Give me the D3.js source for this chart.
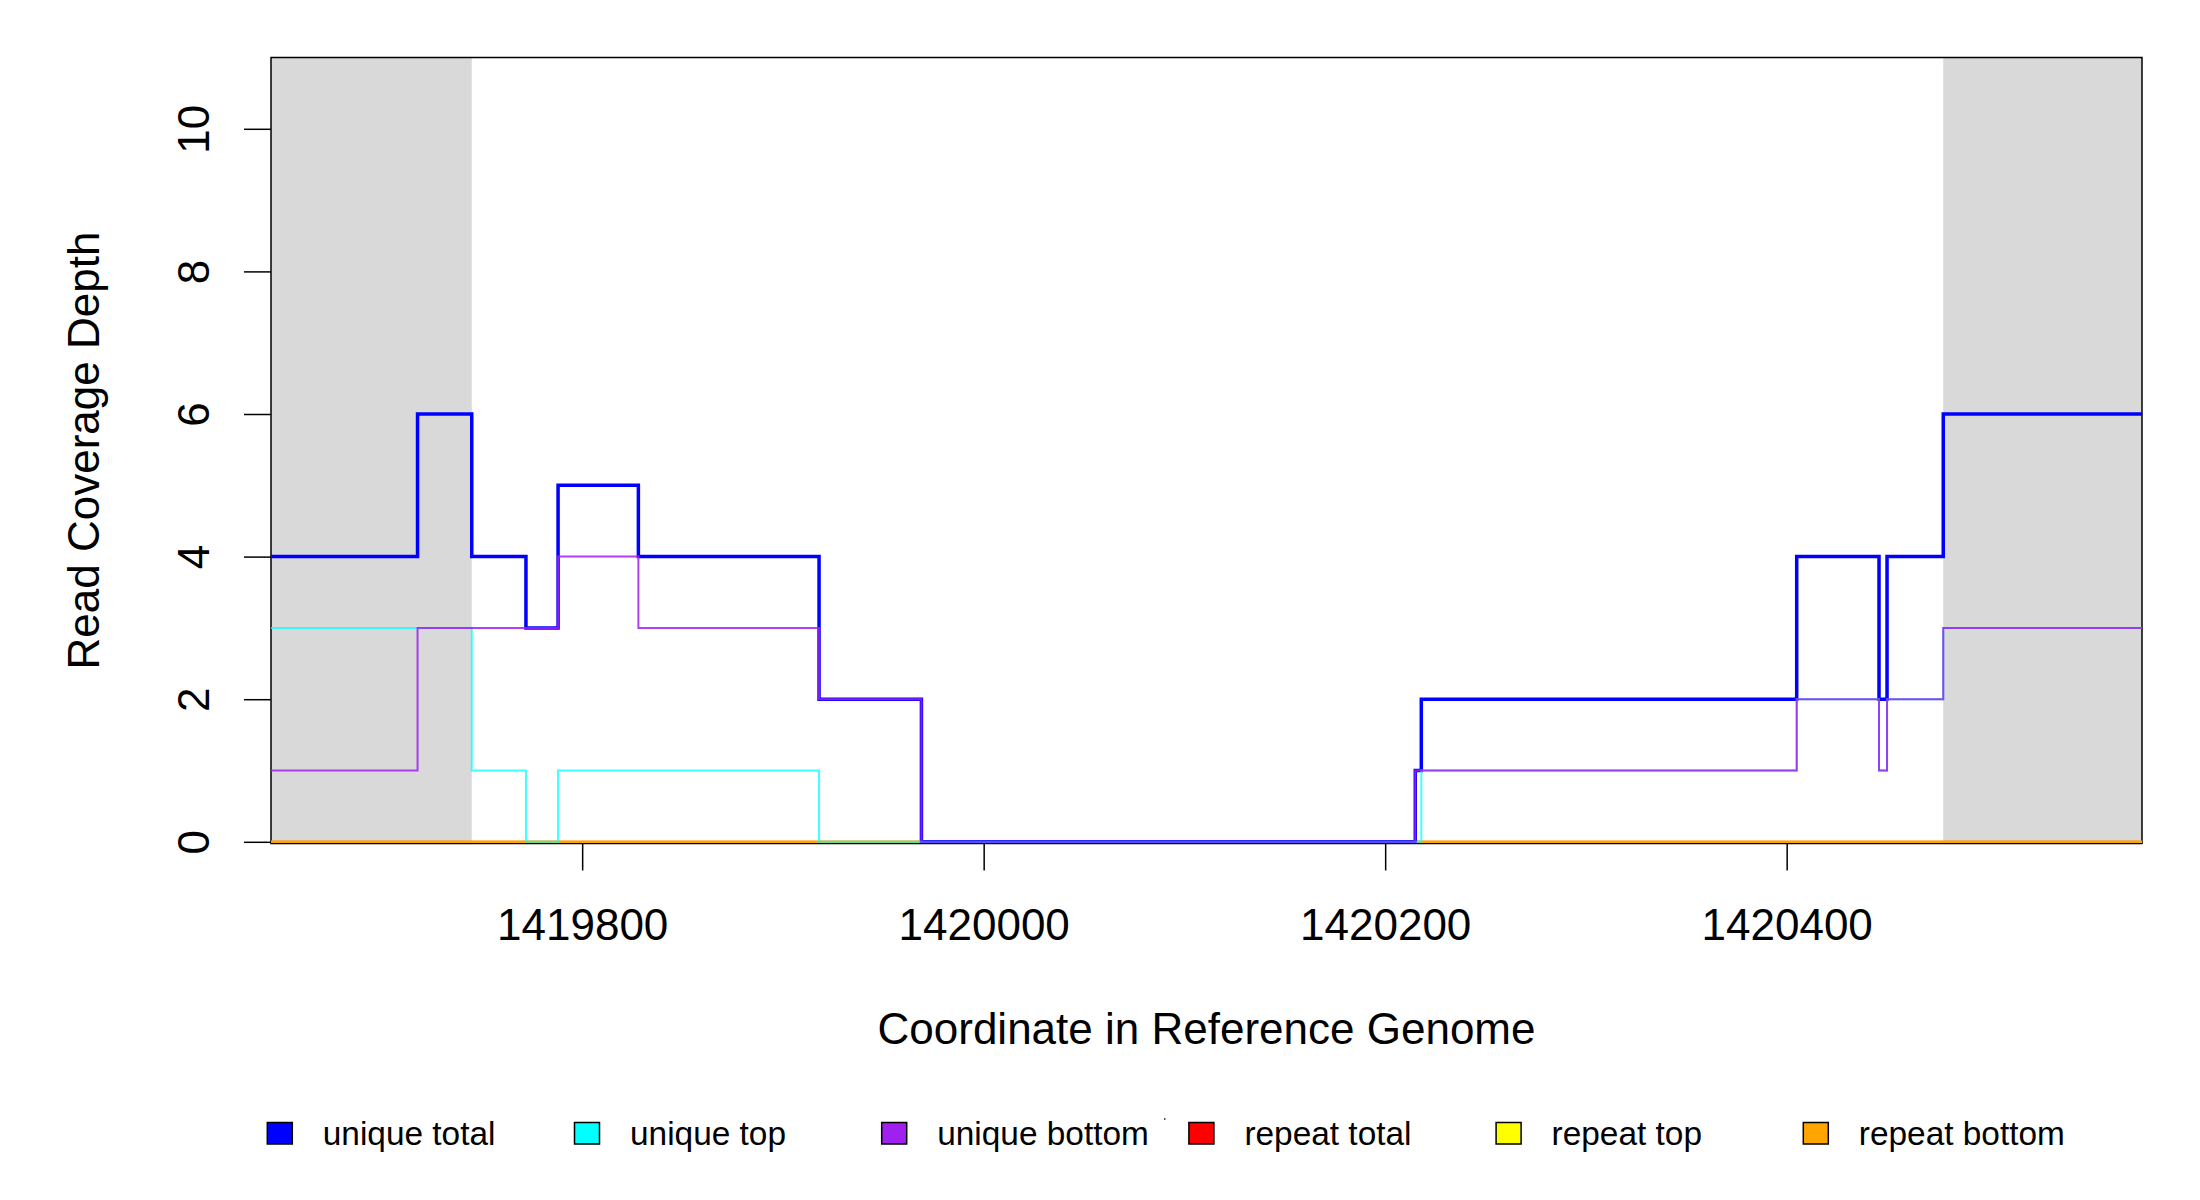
<!DOCTYPE html>
<html>
<head>
<meta charset="utf-8">
<script src="https://cdn.jsdelivr.net/npm/d3@7"></script>
<style>
  html, body { margin: 0; padding: 0; background: #fff; }
  svg { display: block; }
  text { font-family: "Liberation Sans", Arial, Helvetica, sans-serif; fill: #000; }
</style>
</head>
<body>
<svg id="chart" width="2200" height="1200"></svg>
<script>
// ---- data ----
const xDomain = [1419645, 1420577];
const yDomain = [0, 11];
const xTicks = [1419800, 1420000, 1420200, 1420400];
const yTicks = [0, 2, 4, 6, 8, 10];
const flankRegions = [[1419645, 1419745], [1420478, 1420577]];
// segment boundaries (step starts, plus final end)
const breaks = [1419645, 1419718, 1419745, 1419772, 1419788, 1419828, 1419918, 1419969,
                1420215, 1420218, 1420405, 1420446, 1420450, 1420478, 1420577];
const uniqueTotal  = [4, 6, 4, 3, 5, 4, 2, 0, 1, 2, 4, 2, 4, 6];
const uniqueTop    = [3, 3, 1, 0, 1, 1, 0, 0, 0, 1, 2, 1, 2, 3];
const uniqueBottom = [1, 3, 3, 3, 4, 3, 2, 0, 1, 1, 2, 1, 2, 3];
const repeatTotal  = [0, 0, 0, 0, 0, 0, 0, 0, 0, 0, 0, 0, 0, 0];
const repeatTop    = [0, 0, 0, 0, 0, 0, 0, 0, 0, 0, 0, 0, 0, 0];
const repeatBottom = [0, 0, 0, 0, 0, 0, 0, 0, 0, 0, 0, 0, 0, 0];
const legendLabels = ["unique total", "unique top", "unique bottom", "repeat total", "repeat top", "repeat bottom"];
const seriesColors = ["#0000FF", "#00FFFF", "#A020F0", "#FF0000", "#FFFF00", "#FFA500"];
const xTitle = "Coordinate in Reference Genome";
const yTitle = "Read Coverage Depth";

// ---- layout ----
const svg = d3.select("#chart");
const L = 271, R = 2142, T = 57.5, B = 843.5, Y0 = 841.8;
const x = d3.scaleLinear().domain(xDomain).range([L, R]);
const y = d3.scaleLinear().domain(yDomain).range([Y0, T]);

// flank shading
svg.append("g").selectAll("rect").data(flankRegions).join("rect")
  .attr("x", d => x(d[0])).attr("width", d => x(d[1]) - x(d[0]))
  .attr("y", T).attr("height", B - T)
  .attr("fill", "#D9D9D9");

// box
svg.append("rect").attr("x", L).attr("y", T).attr("width", R - L).attr("height", B - T)
  .attr("fill", "none").attr("stroke", "#000").attr("stroke-width", 1.5);

// lines
const toPoints = vals => {
  const pts = vals.map((v, i) => [breaks[i], v]);
  pts.push([breaks[breaks.length - 1], vals[vals.length - 1]]);
  return pts;
};
const line = d3.line().x(d => x(d[0])).y(d => y(d[1])).curve(d3.curveStepAfter);
const series = [
  { vals: repeatTotal,  color: seriesColors[3], w: 2.2, op: 1 },
  { vals: repeatTop,    color: seriesColors[4], w: 2.2, op: 1 },
  { vals: repeatBottom, color: seriesColors[5], w: 2.2, op: 1 },
  { vals: uniqueTotal,  color: seriesColors[0], w: 3.5, op: 1 },
  { vals: uniqueTop,    color: seriesColors[1], w: 2, op: 0.75 },
  { vals: uniqueBottom, color: seriesColors[2], w: 2, op: 0.85 }
];
svg.append("g").selectAll("path").data(series).join("path")
  .attr("d", d => line(toPoints(d.vals)))
  .attr("fill", "none")
  .attr("stroke", d => d.color)
  .attr("stroke-width", d => d.w)
  .attr("stroke-opacity", d => d.op)
  .attr("stroke-linejoin", "miter");

// x axis
const xAxis = d3.axisBottom(x).tickValues(xTicks).tickSize(27).tickPadding(0).tickFormat(d3.format("d"));
const gx = svg.append("g").attr("transform", `translate(0,${B})`).call(xAxis);
gx.select(".domain").remove();
gx.selectAll(".tick line").attr("stroke", "#000").attr("stroke-width", 1.5);
gx.selectAll(".tick text").attr("font-size", 44).attr("y", 96.5).attr("dy", null)
  .attr("font-family", '"Liberation Sans", Arial, sans-serif').attr("fill", "#000");

// y axis
const yAxis = d3.axisLeft(y).tickValues(yTicks).tickSize(27).tickFormat(d3.format("d"));
const gy = svg.append("g").attr("transform", `translate(${L},0)`).call(yAxis);
gy.select(".domain").remove();
gy.selectAll(".tick line").attr("stroke", "#000").attr("stroke-width", 1.5);
gy.selectAll(".tick text")
  .attr("font-size", 44).attr("x", null).attr("dy", null)
  .attr("text-anchor", "middle")
  .attr("font-family", '"Liberation Sans", Arial, sans-serif').attr("fill", "#000")
  .attr("transform", "translate(-62.3,0) rotate(-90)");

// titles
svg.append("text").attr("x", (L + R) / 2).attr("y", 1044)
  .attr("text-anchor", "middle").attr("font-size", 44).text(xTitle);
svg.append("text").attr("transform", `translate(98.5,${(T + B) / 2}) rotate(-90)`)
  .attr("text-anchor", "middle").attr("font-size", 44).text(yTitle);

// legend
const lx = d3.scaleLinear().domain([0, legendLabels.length - 1]).range([267.3, 267.3 + 5 * 307.2]);
const lg = svg.append("g").selectAll("g").data(legendLabels).join("g")
  .attr("transform", (d, i) => `translate(${lx(i)},1122.5)`);
lg.append("rect").attr("width", 25).attr("height", 21.5)
  .attr("fill", (d, i) => seriesColors[i]).attr("stroke", "#000").attr("stroke-width", 1.5);
lg.append("text").attr("x", 55.5).attr("y", 22.5).attr("font-size", 33.4).text(d => d);
// small stray mark seen in the legend row
svg.append("rect").attr("x", 1164).attr("y", 1118).attr("width", 1.5).attr("height", 2).attr("fill", "#555");
</script>
</body>
</html>
